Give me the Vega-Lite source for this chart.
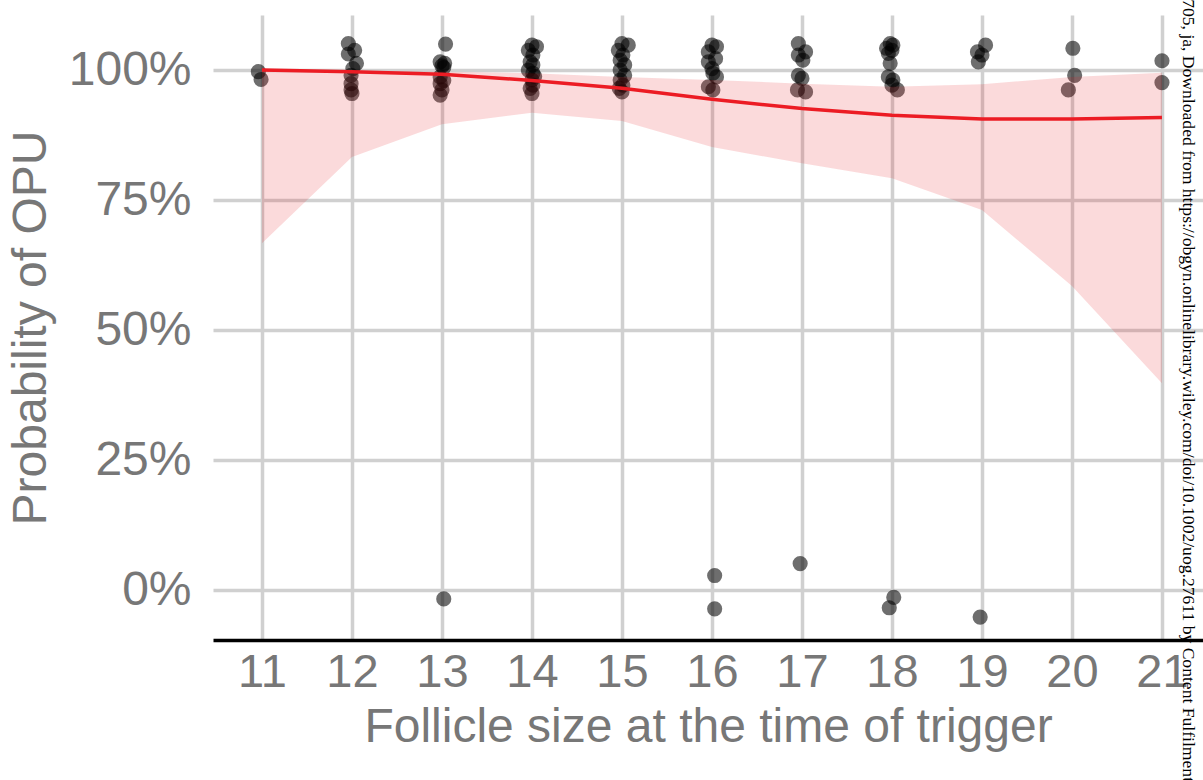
{
  "$schema": "https://vega.github.io/schema/vega-lite/v6.json",
  "autosize": {"type": "none"},
  "width": 990,
  "height": 625,
  "padding": {"left": 213, "top": 15, "right": 0, "bottom": 140},
  "background": "white",
  "config": {
    "view": {"stroke": null},
    "font": "Liberation Sans"
  },
  "datasets": {
    "pts": [
      {"size_mm": 10.96, "p": 0.997}, {"size_mm": 10.99, "p": 0.982},
      {"size_mm": 11.96, "p": 1.051}, {"size_mm": 12.03, "p": 1.038}, {"size_mm": 11.96, "p": 1.031}, {"size_mm": 12.05, "p": 1.013}, {"size_mm": 12.01, "p": 1.003}, {"size_mm": 11.99, "p": 0.990}, {"size_mm": 11.99, "p": 0.974}, {"size_mm": 11.99, "p": 0.962}, {"size_mm": 12.0, "p": 0.955},
      {"size_mm": 13.04, "p": 1.050}, {"size_mm": 12.98, "p": 1.016}, {"size_mm": 13.03, "p": 1.013}, {"size_mm": 13.0, "p": 1.008}, {"size_mm": 13.02, "p": 1.005}, {"size_mm": 12.98, "p": 0.987}, {"size_mm": 13.02, "p": 0.980}, {"size_mm": 12.98, "p": 0.974}, {"size_mm": 13.0, "p": 0.962}, {"size_mm": 12.98, "p": 0.952}, {"size_mm": 13.02, "p": -0.017},
      {"size_mm": 14.0, "p": 1.048}, {"size_mm": 14.05, "p": 1.045}, {"size_mm": 13.96, "p": 1.038}, {"size_mm": 14.01, "p": 1.029}, {"size_mm": 13.98, "p": 1.016}, {"size_mm": 14.01, "p": 1.010}, {"size_mm": 13.96, "p": 1.0}, {"size_mm": 14.01, "p": 0.994}, {"size_mm": 14.03, "p": 0.988}, {"size_mm": 14.0, "p": 0.981}, {"size_mm": 14.01, "p": 0.971}, {"size_mm": 13.98, "p": 0.965}, {"size_mm": 14.0, "p": 0.955},
      {"size_mm": 15.0, "p": 1.051}, {"size_mm": 15.07, "p": 1.048}, {"size_mm": 14.96, "p": 1.038}, {"size_mm": 15.01, "p": 1.029}, {"size_mm": 14.98, "p": 1.019}, {"size_mm": 15.03, "p": 1.010}, {"size_mm": 14.98, "p": 1.0}, {"size_mm": 15.03, "p": 0.990}, {"size_mm": 14.98, "p": 0.981}, {"size_mm": 15.01, "p": 0.971}, {"size_mm": 14.97, "p": 0.965}, {"size_mm": 15.0, "p": 0.958},
      {"size_mm": 16.0, "p": 1.048}, {"size_mm": 16.05, "p": 1.045}, {"size_mm": 15.96, "p": 1.035}, {"size_mm": 16.04, "p": 1.022}, {"size_mm": 15.96, "p": 1.016}, {"size_mm": 16.0, "p": 1.003}, {"size_mm": 16.01, "p": 0.994}, {"size_mm": 16.05, "p": 0.987}, {"size_mm": 15.96, "p": 0.968}, {"size_mm": 16.01, "p": 0.962}, {"size_mm": 16.03, "p": 0.028}, {"size_mm": 16.03, "p": -0.036},
      {"size_mm": 16.96, "p": 1.051}, {"size_mm": 17.04, "p": 1.035}, {"size_mm": 16.96, "p": 1.029}, {"size_mm": 17.01, "p": 1.019}, {"size_mm": 16.96, "p": 0.990}, {"size_mm": 17.0, "p": 0.984}, {"size_mm": 16.95, "p": 0.962}, {"size_mm": 17.04, "p": 0.958}, {"size_mm": 16.98, "p": 0.051},
      {"size_mm": 17.98, "p": 1.051}, {"size_mm": 18.01, "p": 1.048}, {"size_mm": 17.94, "p": 1.042}, {"size_mm": 18.0, "p": 1.038}, {"size_mm": 17.96, "p": 1.032}, {"size_mm": 17.98, "p": 1.013}, {"size_mm": 17.96, "p": 0.987}, {"size_mm": 18.01, "p": 0.981}, {"size_mm": 18.0, "p": 0.971}, {"size_mm": 18.06, "p": 0.962}, {"size_mm": 18.02, "p": -0.014}, {"size_mm": 17.97, "p": -0.034},
      {"size_mm": 19.04, "p": 1.048}, {"size_mm": 18.95, "p": 1.035}, {"size_mm": 19.0, "p": 1.029}, {"size_mm": 18.96, "p": 1.016}, {"size_mm": 18.98, "p": -0.052},
      {"size_mm": 20.01, "p": 1.042}, {"size_mm": 20.03, "p": 0.990}, {"size_mm": 19.96, "p": 0.962},
      {"size_mm": 21.0, "p": 1.018}, {"size_mm": 21.0, "p": 0.976}
    ],
    "fit": [
      {"size_mm": 11, "fit": 1.0, "lo": 0.667, "hi": 1.0},
      {"size_mm": 12, "fit": 0.997, "lo": 0.833, "hi": 0.999},
      {"size_mm": 13, "fit": 0.992, "lo": 0.896, "hi": 0.997},
      {"size_mm": 14, "fit": 0.980, "lo": 0.918, "hi": 0.994},
      {"size_mm": 15, "fit": 0.965, "lo": 0.902, "hi": 0.987},
      {"size_mm": 16, "fit": 0.944, "lo": 0.852, "hi": 0.981},
      {"size_mm": 17, "fit": 0.926, "lo": 0.821, "hi": 0.974},
      {"size_mm": 18, "fit": 0.913, "lo": 0.792, "hi": 0.968},
      {"size_mm": 19, "fit": 0.906, "lo": 0.731, "hi": 0.973},
      {"size_mm": 20, "fit": 0.906, "lo": 0.585, "hi": 0.987},
      {"size_mm": 21, "fit": 0.909, "lo": 0.398, "hi": 0.995}
    ],
    "note": [
      {"size_mm": 21.233, "p": 1.221, "label": "14690705, ja, Downloaded from https://obgyn.onlinelibrary.wiley.com/doi/10.1002/uog.27611 by Content Fulfilment, Wiley Online Library"}
    ]
  },
  "encoding": {
    "x": {
      "field": "size_mm", "type": "quantitative",
      "scale": {"domain": [10.456, 21.456], "nice": false, "zero": false},
      "axis": {
        "title": "Follicle size at the time of trigger",
        "values": [11, 12, 13, 14, 15, 16, 17, 18, 19, 20, 21],
        "format": "d",
        "labelFontSize": 47, "labelColor": "#777777", "labelPadding": 9,
        "labelFlush": false, "labelOverlap": false,
        "titleFontSize": 48, "titleColor": "#777777", "titleFontWeight": "normal", "titlePadding": 8,
        "domain": true, "domainColor": "#000000", "domainWidth": 3.5,
        "ticks": false,
        "grid": true, "gridColor": "#d0d0d0", "gridWidth": 3.5
      }
    }
  },
  "layer": [
    {
      "data": {"name": "pts"},
      "mark": {"type": "point", "filled": true, "color": "#000000", "opacity": 0.57, "size": 230, "shape": "circle"},
      "encoding": {
        "y": {
          "field": "p", "type": "quantitative",
          "scale": {"domain": [-0.096, 1.106], "nice": false, "zero": false},
          "axis": {
            "title": "Probability of OPU",
            "values": [0, 0.25, 0.5, 0.75, 1],
            "format": ".0%",
            "labelFontSize": 48, "labelColor": "#777777", "labelPadding": 22,
            "titleFontSize": 48, "titleColor": "#777777", "titleFontWeight": "normal", "titlePadding": 13,
            "domain": false, "ticks": false,
            "grid": true, "gridColor": "#d0d0d0", "gridWidth": 3.5
          }
        }
      }
    },
    {
      "data": {"name": "fit"},
      "mark": {"type": "area", "color": "#e41a1c", "opacity": 0.16},
      "encoding": {
        "y": {"field": "lo", "type": "quantitative"},
        "y2": {"field": "hi"}
      }
    },
    {
      "data": {"name": "fit"},
      "mark": {"type": "line", "color": "#ec1c24", "strokeWidth": 3.5},
      "encoding": {
        "y": {"field": "fit", "type": "quantitative"}
      }
    },
    {
      "data": {"name": "note"},
      "mark": {"type": "text", "font": "Liberation Serif", "fontSize": 17.6, "color": "#000000", "angle": 90, "align": "left", "baseline": "alphabetic"},
      "encoding": {
        "y": {"field": "p", "type": "quantitative"},
        "text": {"field": "label"}
      }
    }
  ]
}
